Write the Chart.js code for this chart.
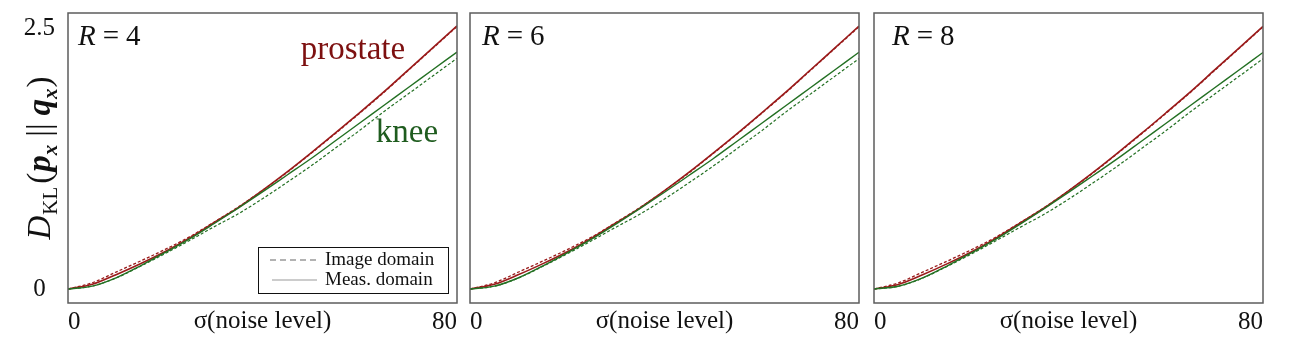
<!DOCTYPE html>
<html>
<head>
<meta charset="utf-8">
<script src="https://cdn.jsdelivr.net/npm/chart.js@4.4.1/dist/chart.umd.min.js"></script>
<style>
  body { margin: 0; background: #fff; width: 1299px; height: 354px; overflow: hidden; position: relative; }
  canvas { position: absolute; top: 0; }
</style>
</head>
<body>
<canvas id="c1" width="462" height="354" style="left:0"></canvas>
<canvas id="c2" width="402" height="354" style="left:462px"></canvas>
<canvas id="c3" width="435" height="354" style="left:864px"></canvas>
<script>
// noise level sigma
const sigma = [0, 5, 10, 15, 20, 25, 30, 35, 40, 45, 50, 55, 60, 65, 70, 75, 80];
const xTicks = [0, 80];
const yTicks = [0, 2.5];
const panelTitles = ["4", "6", "8"];

// R = 4
const prostateMeasR4 = [0, 0.045, 0.14, 0.245, 0.36, 0.49, 0.635, 0.78, 0.945, 1.12, 1.305, 1.495, 1.69, 1.89, 2.1, 2.31, 2.52];
const prostateImgR4  = [0, 0.06, 0.165, 0.27, 0.38, 0.5, 0.64, 0.785, 0.945, 1.115, 1.3, 1.49, 1.685, 1.885, 2.095, 2.305, 2.515];
const kneeMeasR4     = [0, 0.028, 0.11, 0.225, 0.35, 0.48, 0.625, 0.775, 0.93, 1.09, 1.25, 1.42, 1.59, 1.76, 1.93, 2.1, 2.27];
const kneeImgR4      = [0, 0.028, 0.108, 0.22, 0.34, 0.465, 0.595, 0.72, 0.865, 1.02, 1.18, 1.35, 1.52, 1.7, 1.87, 2.04, 2.21];
// R = 6
const prostateMeasR6 = [0, 0.045, 0.138, 0.243, 0.357, 0.487, 0.632, 0.778, 0.942, 1.117, 1.302, 1.492, 1.688, 1.888, 2.098, 2.308, 2.518];
const prostateImgR6  = [0, 0.059, 0.163, 0.268, 0.378, 0.497, 0.637, 0.782, 0.942, 1.112, 1.297, 1.487, 1.683, 1.883, 2.093, 2.303, 2.513];
const kneeMeasR6     = [0, 0.027, 0.108, 0.222, 0.347, 0.477, 0.622, 0.772, 0.927, 1.087, 1.248, 1.418, 1.588, 1.758, 1.928, 2.098, 2.268];
const kneeImgR6      = [0, 0.027, 0.106, 0.218, 0.337, 0.462, 0.592, 0.718, 0.862, 1.017, 1.177, 1.347, 1.517, 1.697, 1.867, 2.037, 2.207];
// R = 8
const prostateMeasR8 = [0, 0.044, 0.137, 0.241, 0.355, 0.485, 0.63, 0.776, 0.94, 1.115, 1.3, 1.49, 1.686, 1.886, 2.096, 2.306, 2.516];
const prostateImgR8  = [0, 0.058, 0.162, 0.266, 0.376, 0.495, 0.635, 0.78, 0.94, 1.11, 1.295, 1.485, 1.681, 1.881, 2.091, 2.301, 2.511];
const kneeMeasR8     = [0, 0.026, 0.106, 0.22, 0.345, 0.475, 0.62, 0.77, 0.925, 1.085, 1.246, 1.416, 1.586, 1.756, 1.926, 2.096, 2.266];
const kneeImgR8      = [0, 0.026, 0.104, 0.216, 0.335, 0.46, 0.59, 0.716, 0.86, 1.015, 1.175, 1.345, 1.515, 1.695, 1.865, 2.035, 2.205];

const RED = "#9a1b1b";
const GREEN = "#237023";
const SERIF = '"Liberation Serif", "DejaVu Serif", serif';

function pts(arr) {
    return sigma.map((s, i) => ({ x: s, y: arr[i] }));
}

function series(pm, pi, km, ki) {
    return [
        { label: "knee meas", data: pts(km), borderColor: GREEN, borderWidth: 1.4 },
        { label: "knee img", data: pts(ki), borderColor: GREEN, borderWidth: 1.2, borderDash: [3, 2] },
        { label: "prostate meas", data: pts(pm), borderColor: RED, borderWidth: 1.6 },
        { label: "prostate img", data: pts(pi), borderColor: RED, borderWidth: 1.3, borderDash: [3, 2] }
    ].map(d => ({ ...d, pointRadius: 0, fill: false, cubicInterpolationMode: "monotone" }));
}

function drawYTitle(ctx, cx, cy) {
    const big = 33, small = 21;
    const parts = [
        { t: "D", f: `italic ${big}px ${SERIF}`, dy: 0, gap: 1 },
        { t: "KL", f: `${small}px ${SERIF}`, dy: 7, gap: 3 },
        { t: "(", f: `${big}px ${SERIF}`, dy: 0, gap: 1 },
        { t: "p", f: `bold italic ${big}px ${SERIF}`, dy: 0, gap: 0 },
        { t: "x", f: `bold italic ${small}px ${SERIF}`, dy: 7, gap: 8 },
        { t: "||", f: `${big}px ${SERIF}`, dy: 0, gap: 8 },
        { t: "q", f: `bold italic ${big}px ${SERIF}`, dy: 0, gap: 0 },
        { t: "x", f: `bold italic ${small}px ${SERIF}`, dy: 7, gap: 1 },
        { t: ")", f: `${big}px ${SERIF}`, dy: 0, gap: 0 }
    ];
    ctx.save();
    let total = 0;
    parts.forEach(p => { ctx.font = p.f; p.w = ctx.measureText(p.t).width; total += p.w + p.gap; });
    ctx.translate(cx, cy);
    ctx.rotate(-Math.PI / 2);
    ctx.fillStyle = "#111";
    ctx.textBaseline = "alphabetic";
    let x = -total / 2;
    parts.forEach(p => {
        ctx.font = p.f;
        ctx.fillText(p.t, x, 10 + p.dy);
        x += p.w + p.gap;
    });
    ctx.restore();
}

function drawRLabel(ctx, x, y, val) {
    ctx.save();
    ctx.fillStyle = "#111";
    ctx.textBaseline = "middle";
    ctx.font = `italic 29px ${SERIF}`;
    ctx.fillText("R", x, y);
    let w = ctx.measureText("R").width + 7;
    ctx.font = `29px ${SERIF}`;
    ctx.fillText("=", x + w, y);
    w += ctx.measureText("=").width + 7;
    ctx.fillText(val, x + w, y);
    ctx.restore();
}

function drawLegend(ctx, a) {
    const right = a.right - 9, bottom = a.bottom - 10;
    const left = right - 190, top = bottom - 46;
    ctx.save();
    ctx.fillStyle = "#fff";
    ctx.fillRect(left, top, 190, 46);
    ctx.strokeStyle = "#111";
    ctx.lineWidth = 1;
    ctx.strokeRect(left + 0.5, top + 0.5, 190, 46);
    ctx.strokeStyle = "#999";
    ctx.lineWidth = 1.5;
    ctx.setLineDash([6, 4]);
    ctx.beginPath(); ctx.moveTo(left + 12, top + 13); ctx.lineTo(left + 59, top + 13); ctx.stroke();
    ctx.setLineDash([]);
    ctx.lineWidth = 1.2;
    ctx.beginPath(); ctx.moveTo(left + 14, top + 33); ctx.lineTo(left + 59, top + 33); ctx.stroke();
    ctx.fillStyle = "#111";
    ctx.font = `19px ${SERIF}`;
    ctx.textBaseline = "middle";
    ctx.fillText("Image domain", left + 67, top + 13);
    ctx.fillText("Meas. domain", left + 67, top + 33);
    ctx.restore();
}

function overlay(idx, rOffset) {
    return {
        id: "overlay" + idx,
        afterDraw(chart) {
            const ctx = chart.ctx, a = chart.chartArea;
            const xs = chart.scales.x, ys = chart.scales.y;
            ctx.save();
            ctx.strokeStyle = "#5c5c5c";
            ctx.lineWidth = 1.5;
            ctx.strokeRect(a.left, a.top, a.right - a.left, a.bottom - a.top);
            ctx.restore();
            drawRLabel(ctx, a.left + rOffset, a.top + 24, panelTitles[idx]);
            if (idx === 0) {
                ctx.save();
                ctx.textAlign = "center";
                ctx.textBaseline = "middle";
                ctx.font = `33px ${SERIF}`;
                ctx.fillStyle = "#7d1010";
                ctx.fillText("prostate", xs.getPixelForValue(58.6), ys.getPixelForValue(2.29));
                ctx.fillStyle = "#1f5c1f";
                ctx.fillText("knee", xs.getPixelForValue(69.7), ys.getPixelForValue(1.49));
                ctx.restore();
                drawLegend(ctx, a);
                drawYTitle(ctx, 40, (a.top + a.bottom) / 2);
            }
        }
    };
}

function makeChart(id, idx, data, yWidth, padRight, rOffset) {
    const ctx = document.getElementById(id).getContext("2d");
    new Chart(ctx, {
        type: "line",
        data: { datasets: data },
        options: {
            responsive: false,
            animation: false,
            layout: { padding: { top: 13, right: padRight, left: 0, bottom: 0 } },
            plugins: { legend: { display: false }, tooltip: { enabled: false } },
            scales: {
                x: {
                    type: "linear", min: 0, max: 80,
                    grid: { display: false, drawTicks: false },
                    border: { display: false },
                    afterBuildTicks: s => { s.ticks = xTicks.map(v => ({ value: v })); },
                    afterFit: s => { s.height = 51; s.paddingLeft = 0; s.paddingRight = 0; },
                    ticks: {
                        align: "inner", padding: 4, maxRotation: 0, autoSkip: false,
                        color: "#111", font: { family: SERIF, size: 25 },
                        callback: v => String(v)
                    },
                    title: {
                        display: true, text: "\u03c3(noise level)", color: "#111",
                        font: { family: SERIF, size: 25 },
                        padding: { top: 0, bottom: 18 }
                    }
                },
                y: {
                    type: "linear", min: -0.134, max: 2.644,
                    grid: { display: false, drawTicks: false },
                    border: { display: false },
                    afterBuildTicks: s => { s.ticks = yTicks.map(v => ({ value: v })); },
                    afterFit: s => { s.width = yWidth; s.paddingTop = 0; s.paddingBottom = 0; },
                    ticks: {
                        display: idx === 0, padding: 13, crossAlign: "center",
                        color: "#111", font: { family: SERIF, size: 25 },
                        callback: v => String(v)
                    }
                }
            }
        },
        plugins: [overlay(idx, rOffset)]
    });
}

makeChart("c1", 0, series(prostateMeasR4, prostateImgR4, kneeMeasR4, kneeImgR4), 68, 5, 10);
makeChart("c2", 1, series(prostateMeasR6, prostateImgR6, kneeMeasR6, kneeImgR6), 8, 5, 12);
makeChart("c3", 2, series(prostateMeasR8, prostateImgR8, kneeMeasR8, kneeImgR8), 10, 36, 18);
</script>
</body>
</html>
